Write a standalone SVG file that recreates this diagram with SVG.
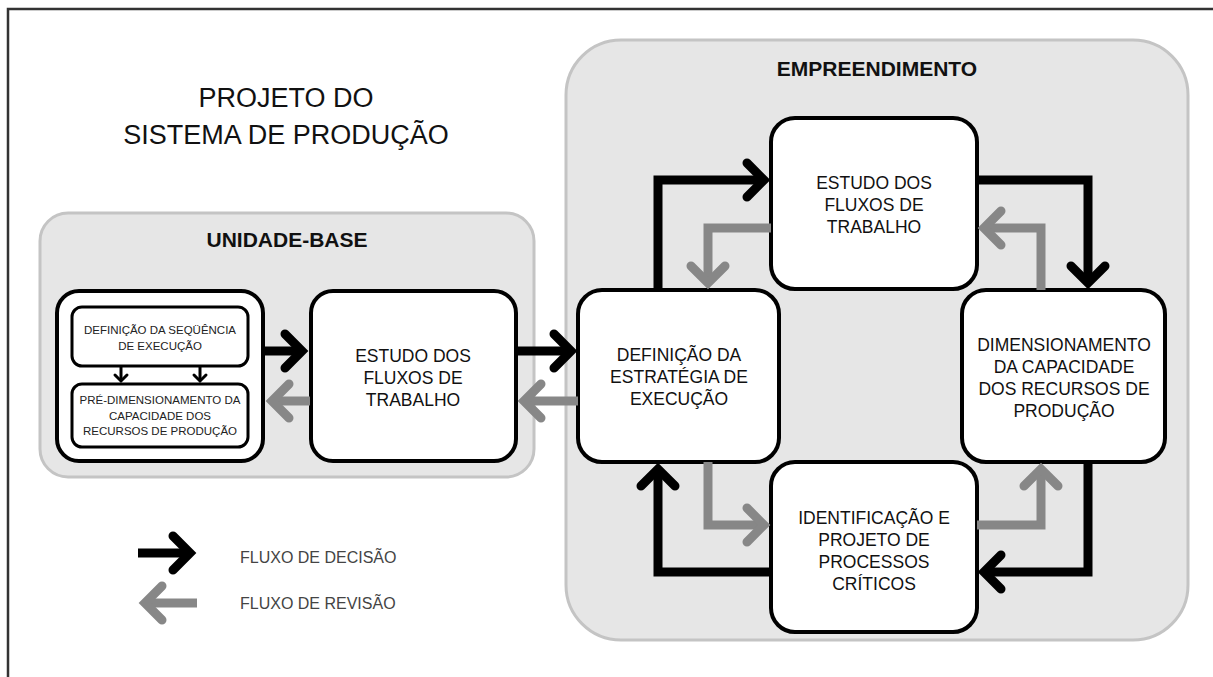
<svg xmlns="http://www.w3.org/2000/svg" width="1213" height="677" viewBox="0 0 1213 677">
<style>
.frame{stroke:#333;stroke-width:2.5;fill:none}
.cont{fill:#e6e6e6;stroke:#c4c4c4;stroke-width:3}
.box{fill:#fff;stroke:#000;stroke-width:4}
.ibox{fill:#fff;stroke:#000;stroke-width:3}
.title{font-family:"Liberation Sans",Arial,sans-serif;font-size:27px;fill:#111;text-anchor:middle}
.ctitle{font-family:"Liberation Sans",Arial,sans-serif;font-size:21px;font-weight:bold;fill:#111;text-anchor:middle}
.lbl{font-family:"Liberation Sans",Arial,sans-serif;font-size:17.5px;fill:#111;text-anchor:middle}
.small{font-family:"Liberation Sans",Arial,sans-serif;font-size:11.5px;fill:#222;text-anchor:middle}
.leg{font-family:"Liberation Sans",Arial,sans-serif;font-size:16px;fill:#444}
.dec{stroke:#000;stroke-width:9;fill:none;stroke-linejoin:miter}
.rev{stroke:#878787;stroke-width:9;fill:none;stroke-linejoin:miter}
.thin{stroke:#000;stroke-width:3;fill:none}
</style>
<defs>
<marker id="ab" markerUnits="userSpaceOnUse" viewBox="-30 -30 60 60" markerWidth="60" markerHeight="60" refX="0" refY="0" orient="auto" overflow="visible">
<path d="M-17,-17 L0,0 L-17,17" fill="none" stroke="#000" stroke-width="9" stroke-linecap="round" stroke-linejoin="miter"/>
</marker>
<marker id="ag" markerUnits="userSpaceOnUse" viewBox="-30 -30 60 60" markerWidth="60" markerHeight="60" refX="0" refY="0" orient="auto" overflow="visible">
<path d="M-17,-17 L0,0 L-17,17" fill="none" stroke="#878787" stroke-width="9" stroke-linecap="round" stroke-linejoin="miter"/>
</marker>
<marker id="as" markerUnits="userSpaceOnUse" viewBox="-10 -10 20 20" markerWidth="20" markerHeight="20" refX="0" refY="0" orient="auto" overflow="visible">
<path d="M-6,-6 L0,0 L-6,6" fill="none" stroke="#000" stroke-width="3" stroke-linecap="round"/>
</marker>
</defs>
<rect width="1213" height="677" fill="#fff"/>
<path class="frame" d="M8,677 V9 H1213"/>
<g id="title">
<text class="title" x="286" y="107">PROJETO DO</text>
<text class="title" x="286" y="144">SISTEMA DE PRODUÇÃO</text>
</g>
<g id="unidade-base">
<rect class="cont" x="40" y="213" width="494" height="264" rx="28"/>
<text class="ctitle" x="287" y="247">UNIDADE-BASE</text>
</g>
<g id="empreendimento">
<rect class="cont" x="566" y="40" width="622" height="600" rx="55"/>
<text class="ctitle" x="877" y="76">EMPREENDIMENTO</text>
</g>
<g id="pre-box">
<rect class="box" x="57" y="291" width="206" height="170" rx="22"/>
</g>
<g id="seq">
<rect class="ibox" x="72" y="307" width="176" height="59" rx="10"/>
<text class="small" x="160" y="334">DEFINIÇÃO DA SEQÜÊNCIA</text>
<text class="small" x="160" y="350">DE EXECUÇÃO</text>
</g>
<g id="predim">
<rect class="ibox" x="72" y="384" width="176" height="63" rx="10"/>
<text class="small" x="160" y="404">PRÉ-DIMENSIONAMENTO DA</text>
<text class="small" x="160" y="420">CAPACIDADE DOS</text>
<text class="small" x="160" y="435">RECURSOS DE PRODUÇÃO</text>
</g>
<g id="estudo-base">
<rect class="box" x="311" y="291" width="205" height="170" rx="22"/>
<text class="lbl" x="413" y="362">ESTUDO DOS</text>
<text class="lbl" x="413" y="384">FLUXOS DE</text>
<text class="lbl" x="413" y="406">TRABALHO</text>
</g>
<g id="estudo-emp">
<rect class="box" x="771" y="118" width="206" height="171" rx="24"/>
<text class="lbl" x="874" y="189">ESTUDO DOS</text>
<text class="lbl" x="874" y="211">FLUXOS DE</text>
<text class="lbl" x="874" y="233">TRABALHO</text>
</g>
<g id="estrategia">
<rect class="box" x="578" y="290" width="201" height="172" rx="24"/>
<text class="lbl" x="679" y="361">DEFINIÇÃO DA</text>
<text class="lbl" x="679" y="383">ESTRATÉGIA DE</text>
<text class="lbl" x="679" y="405">EXECUÇÃO</text>
</g>
<g id="dimensionamento">
<rect class="box" x="962" y="290" width="203" height="172" rx="24"/>
<text class="lbl" x="1064" y="351">DIMENSIONAMENTO</text>
<text class="lbl" x="1064" y="373">DA CAPACIDADE</text>
<text class="lbl" x="1064" y="395">DOS RECURSOS DE</text>
<text class="lbl" x="1064" y="417">PRODUÇÃO</text>
</g>
<g id="criticos">
<rect class="box" x="771" y="462" width="206" height="170" rx="24"/>
<text class="lbl" x="874" y="524">IDENTIFICAÇÃO E</text>
<text class="lbl" x="874" y="546">PROJETO DE</text>
<text class="lbl" x="874" y="568">PROCESSOS</text>
<text class="lbl" x="874" y="590">CRÍTICOS</text>
</g>
<g id="connectors">
<path class="thin" d="M121,367 V381" marker-end="url(#as)"/>
<path class="thin" d="M200,367 V381" marker-end="url(#as)"/>
<path class="dec" d="M264,351 H302" marker-end="url(#ab)"/>
<path class="rev" d="M310,401 H272" marker-end="url(#ag)"/>
<path class="dec" d="M517,351 H571" marker-end="url(#ab)"/>
<path class="rev" d="M578,401 H524" marker-end="url(#ag)"/>
<path class="dec" d="M658,290 V180 H764" marker-end="url(#ab)"/>
<path class="rev" d="M771,228 H708 V283" marker-end="url(#ag)"/>
<path class="dec" d="M977,180 H1088 V283" marker-end="url(#ab)"/>
<path class="rev" d="M1041,290 V228 H984" marker-end="url(#ag)"/>
<path class="rev" d="M708,462 V525 H764" marker-end="url(#ag)"/>
<path class="dec" d="M771,572 H658 V469" marker-end="url(#ab)"/>
<path class="rev" d="M977,525 H1041 V469" marker-end="url(#ag)"/>
<path class="dec" d="M1088,462 V572 H984" marker-end="url(#ab)"/>
</g>
<g id="legend">
<path class="dec" d="M138,553 H190" marker-end="url(#ab)"/>
<path class="rev" d="M197,603 H145" marker-end="url(#ag)"/>
<text class="leg" x="240" y="563">FLUXO DE DECISÃO</text>
<text class="leg" x="240" y="609">FLUXO DE REVISÃO</text>
</g>
</svg>
